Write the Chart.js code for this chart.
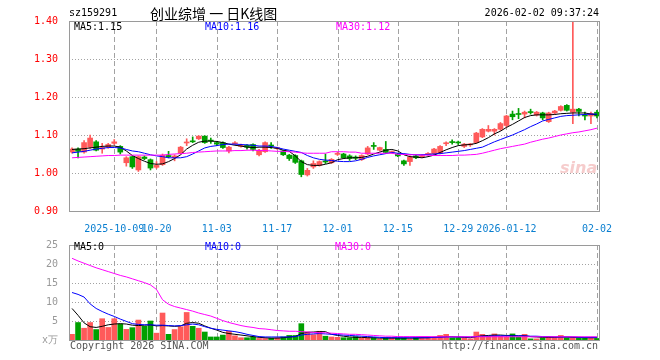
<!DOCTYPE html>
<html><head><meta charset="utf-8">
<script src="https://cdn.jsdelivr.net/npm/chart.js@4.4.1/dist/chart.umd.min.js"></script>
<style>
html,body{margin:0;padding:0;background:#fff;}
body{width:660px;height:360px;position:relative;overflow:hidden;font-family:'DejaVu Sans Mono',monospace;font-size:10px;}
.t{position:absolute;white-space:pre;line-height:12px;}
canvas{position:absolute;left:0;}
</style></head>
<body>
<canvas id="pc" width="660" height="236" style="top:0"></canvas>
<canvas id="vc" width="660" height="124" style="top:236px"></canvas>
<div class="t" style="left:69px;top:7px;color:#000">sz159291</div>
<div class="t" style="left:150px;top:4px;line-height:18px;font-size:14px;font-family:'Noto Sans CJK SC',sans-serif;color:#000">创业综增 一 日K线图</div>
<div class="t" style="right:61px;top:7px;color:#000">2026-02-02 09:37:24</div>
<div class="t" style="left:74px;top:21px;color:#000">MA5:1.15</div>
<div class="t" style="left:205px;top:21px;color:#0000ff">MA10:1.16</div>
<div class="t" style="left:336px;top:21px;color:#ff00ff">MA30:1.12</div>
<div class="t" style="left:74px;top:241px;color:#000">MA5:0</div>
<div class="t" style="left:205px;top:241px;color:#0000ff">MA10:0</div>
<div class="t" style="left:335px;top:241px;color:#ff00ff">MA30:0</div>
<div class="t" style="left:560px;top:158px;font:italic bold 16px 'DejaVu Sans',sans-serif;color:#f6cccc">sina</div>
<div class="t" style="left:70px;top:340px;color:#555">Copyright 2026 SINA.COM</div>
<div class="t" style="right:62px;top:340px;color:#555">http://finance.sina.com.cn</div>
<script>
const dates = [
'2025-09-22','2025-09-23','2025-09-24','2025-09-25','2025-09-26','2025-09-29','2025-09-30','2025-10-09','2025-10-10','2025-10-13',
'2025-10-14','2025-10-15','2025-10-16','2025-10-17','2025-10-20','2025-10-21','2025-10-22','2025-10-23','2025-10-24','2025-10-27',
'2025-10-28','2025-10-29','2025-10-30','2025-10-31','2025-11-03','2025-11-04','2025-11-05','2025-11-06','2025-11-07','2025-11-10',
'2025-11-11','2025-11-12','2025-11-13','2025-11-14','2025-11-17','2025-11-18','2025-11-19','2025-11-20','2025-11-21','2025-11-24',
'2025-11-25','2025-11-26','2025-11-27','2025-11-28','2025-12-01','2025-12-02','2025-12-03','2025-12-04','2025-12-05','2025-12-08',
'2025-12-09','2025-12-10','2025-12-11','2025-12-12','2025-12-15','2025-12-16','2025-12-17','2025-12-18','2025-12-19','2025-12-22',
'2025-12-23','2025-12-24','2025-12-25','2025-12-26','2025-12-29','2025-12-30','2025-12-31','2026-01-05','2026-01-06','2026-01-07',
'2026-01-08','2026-01-09','2026-01-12','2026-01-13','2026-01-14','2026-01-15','2026-01-16','2026-01-19','2026-01-20','2026-01-21',
'2026-01-22','2026-01-23','2026-01-26','2026-01-27','2026-01-28','2026-01-29','2026-01-30','2026-02-02'];

const tickDates  = ['2025-10-09','2025-10-20','2025-11-03','2025-11-17','2025-12-01','2025-12-15','2025-12-29','2026-01-12','2026-02-02'];
const tickLabels = ['2025-10-09','10-20','11-03','11-17','12-01','12-15','12-29','2026-01-12','02-02'];
const priceTicks = [0.90,1.00,1.10,1.20,1.30,1.40];
const volTicks = [0,5,10,15,20,25];

const opens = [
1.055,1.063,1.055,1.068,1.082,1.063,1.068,1.078,1.070,1.027,
1.043,1.008,1.042,1.035,1.015,1.022,1.046,1.040,1.052,1.079,
1.084,1.090,1.097,1.086,1.080,1.080,1.058,1.077,1.070,1.073,
1.075,1.048,1.056,1.073,1.064,1.058,1.047,1.046,1.032,0.995,
1.016,1.020,1.031,1.027,1.049,1.050,1.045,1.042,1.035,1.050,
1.072,1.060,1.062,1.054,1.050,1.032,1.030,1.045,1.043,1.049,
1.050,1.052,1.077,1.082,1.081,1.070,1.074,1.080,1.095,1.110,
1.110,1.115,1.125,1.155,1.156,1.155,1.161,1.153,1.158,1.135,
1.158,1.165,1.178,1.160,1.168,1.152,1.150,1.160];
const closes = [
1.063,1.057,1.080,1.092,1.060,1.067,1.075,1.082,1.055,1.040,
1.016,1.043,1.038,1.013,1.020,1.047,1.043,1.045,1.068,1.081,
1.082,1.097,1.080,1.084,1.076,1.067,1.068,1.079,1.073,1.068,
1.062,1.060,1.080,1.071,1.066,1.048,1.038,1.028,0.996,1.007,
1.025,1.030,1.029,1.036,1.051,1.040,1.038,1.039,1.046,1.066,
1.070,1.067,1.054,1.056,1.045,1.024,1.042,1.040,1.046,1.051,
1.063,1.070,1.079,1.080,1.079,1.076,1.076,1.105,1.115,1.115,
1.115,1.130,1.150,1.148,1.154,1.160,1.159,1.160,1.145,1.158,
1.163,1.175,1.165,1.168,1.162,1.150,1.157,1.150];
const highs = [
1.066,1.066,1.085,1.100,1.085,1.078,1.078,1.088,1.072,1.043,
1.045,1.045,1.045,1.037,1.030,1.050,1.057,1.048,1.070,1.090,
1.095,1.098,1.098,1.092,1.083,1.082,1.070,1.083,1.076,1.075,
1.077,1.062,1.082,1.080,1.068,1.060,1.049,1.048,1.034,1.012,
1.032,1.032,1.050,1.038,1.055,1.052,1.048,1.045,1.048,1.070,
1.080,1.068,1.083,1.058,1.052,1.034,1.045,1.047,1.048,1.054,
1.065,1.072,1.082,1.087,1.084,1.078,1.078,1.107,1.117,1.125,
1.117,1.133,1.152,1.163,1.170,1.163,1.168,1.162,1.160,1.160,
1.165,1.177,1.180,1.400,1.170,1.160,1.160,1.165];
const lows = [
1.052,1.040,1.052,1.065,1.058,1.052,1.065,1.075,1.050,1.018,
1.012,1.004,1.035,1.008,1.012,1.020,1.040,1.032,1.050,1.072,
1.080,1.088,1.078,1.078,1.072,1.065,1.053,1.075,1.068,1.063,
1.058,1.045,1.054,1.065,1.062,1.046,1.033,1.025,0.990,0.992,
1.012,1.018,1.025,1.025,1.046,1.038,1.033,1.035,1.033,1.048,
1.062,1.058,1.052,1.052,1.043,1.020,1.020,1.038,1.041,1.047,
1.048,1.050,1.072,1.076,1.075,1.067,1.070,1.078,1.093,1.108,
1.100,1.112,1.120,1.140,1.143,1.145,1.155,1.150,1.140,1.133,
1.155,1.163,1.163,1.130,1.150,1.140,1.130,1.145];

const ma5 = [
1.062,1.063,1.064,1.066,1.068,1.070,1.071,1.071,1.068,1.058,
1.046,1.038,1.031,1.025,1.023,1.024,1.030,1.038,1.048,1.063,
1.073,1.081,1.084,1.084,1.083,1.080,1.076,1.073,1.071,1.068,
1.067,1.068,1.068,1.067,1.065,1.060,1.057,1.045,1.030,1.022,
1.020,1.020,1.023,1.027,1.035,1.038,1.040,1.040,1.041,1.044,
1.050,1.055,1.060,1.062,1.058,1.048,1.043,1.042,1.040,1.043,
1.047,1.054,1.061,1.067,1.072,1.074,1.075,1.078,1.085,1.093,
1.103,1.110,1.120,1.128,1.137,1.146,1.151,1.153,1.153,1.153,
1.154,1.156,1.157,1.158,1.158,1.158,1.155,1.153];
const ma10 = [
1.053,1.055,1.057,1.060,1.063,1.065,1.067,1.067,1.066,1.062,
1.058,1.056,1.052,1.048,1.045,1.043,1.040,1.040,1.040,1.043,
1.050,1.058,1.066,1.070,1.072,1.075,1.076,1.076,1.075,1.074,
1.073,1.071,1.071,1.070,1.067,1.063,1.060,1.057,1.054,1.046,
1.040,1.036,1.034,1.033,1.031,1.030,1.030,1.032,1.036,1.041,
1.045,1.048,1.051,1.054,1.052,1.051,1.049,1.048,1.048,1.049,
1.050,1.051,1.053,1.055,1.057,1.059,1.062,1.065,1.068,1.075,
1.082,1.088,1.094,1.100,1.107,1.114,1.122,1.129,1.137,1.141,
1.145,1.149,1.151,1.152,1.153,1.154,1.155,1.155];
const ma30 = [
1.040,1.041,1.042,1.043,1.044,1.045,1.046,1.046,1.047,1.047,
1.047,1.047,1.047,1.047,1.047,1.047,1.049,1.050,1.051,1.052,
1.054,1.055,1.056,1.057,1.058,1.058,1.058,1.059,1.059,1.060,
1.060,1.059,1.059,1.058,1.057,1.057,1.056,1.055,1.053,1.052,
1.052,1.052,1.052,1.056,1.056,1.056,1.055,1.055,1.052,1.052,
1.052,1.052,1.052,1.052,1.049,1.049,1.048,1.048,1.047,1.047,
1.046,1.046,1.046,1.046,1.047,1.047,1.048,1.049,1.052,1.056,
1.060,1.064,1.067,1.070,1.073,1.076,1.081,1.085,1.089,1.092,
1.096,1.100,1.103,1.106,1.108,1.111,1.114,1.118];

const volume = [
1.5,4.6,3.1,4.6,2.75,5.6,3.3,5.6,4.2,2.8,
3.25,5.25,3.6,5.0,1.8,7.1,1.5,2.75,3.5,7.25,
3.6,3.1,2.1,0.8,0.8,1.3,2.3,1.1,0.6,0.6,
0.8,0.4,0.4,0.5,0.6,0.8,1.2,1.2,4.3,2.1,
1.4,2.3,1.0,0.8,0.7,0.6,0.6,0.9,0.6,0.6,
0.6,0.3,0.6,0.6,0.5,0.5,0.3,0.6,0.8,0.8,
0.8,1.2,1.5,0.6,0.6,0.6,0.3,2.1,1.5,1.0,
1.6,1.0,0.8,1.6,0.8,1.5,0.3,0.3,0.6,0.8,
0.8,1.2,0.6,0.6,0.6,0.6,0.6,0.4];
const volMa5 = [
8.3,6.5,4.5,3.5,3.3,3.6,4.0,4.2,4.3,4.2,
3.9,3.8,3.9,4.0,3.7,3.8,3.7,3.6,3.7,4.4,
4.6,4.4,3.7,3.1,2.6,2.0,1.7,1.5,1.3,1.1,
0.9,0.7,0.6,0.5,0.5,0.6,0.8,0.9,1.7,2.0,
2.1,2.2,2.2,1.5,1.2,1.0,0.8,0.7,0.7,0.6,
0.6,0.5,0.5,0.5,0.5,0.5,0.5,0.5,0.6,0.6,
0.7,0.8,0.9,0.9,0.8,0.7,0.6,0.9,1.1,1.2,
1.3,1.3,1.2,1.2,1.1,1.1,0.9,0.8,0.7,0.7,
0.7,0.8,0.8,0.7,0.7,0.6,0.6,0.6];
const volMa10 = [
12.5,12.0,11.3,9.5,8.3,7.5,6.8,6.2,5.5,4.9,
4.3,4.1,4.0,4.0,3.9,3.9,3.8,3.7,3.8,4.0,
4.2,4.0,3.5,3.1,2.8,2.6,2.4,2.2,1.9,1.5,
1.2,0.9,0.8,0.8,0.8,0.8,0.8,0.9,1.3,1.5,
1.6,1.7,1.6,1.5,1.4,1.3,1.2,1.1,1.0,0.9,
0.8,0.7,0.6,0.6,0.6,0.6,0.6,0.6,0.6,0.6,
0.7,0.7,0.8,0.8,0.8,0.8,0.8,0.9,1.0,1.0,
1.1,1.1,1.1,1.1,1.1,1.1,1.0,1.0,0.9,0.9,
0.8,0.8,0.8,0.8,0.7,0.7,0.7,0.7];
const volMa30 = [
21.5,20.8,20.2,19.6,19.0,18.5,18.0,17.5,17.0,16.6,
16.1,15.6,15.1,14.5,13.3,10.6,9.4,8.8,8.4,8.0,
7.6,7.1,6.7,6.3,5.7,5.1,4.6,4.2,3.8,3.5,
3.3,3.0,2.9,2.7,2.5,2.4,2.3,2.3,2.2,2.1,
2.0,1.9,1.9,1.8,1.7,1.6,1.5,1.5,1.4,1.3,
1.2,1.1,1.0,1.0,0.9,0.9,0.9,0.9,0.9,0.9,
0.85,0.85,0.85,0.85,0.85,0.85,0.85,0.85,0.85,0.85,
0.85,0.85,0.85,0.85,0.85,0.85,0.85,0.85,0.85,0.85,
0.85,0.85,0.85,0.85,0.85,0.85,0.85,0.85];

const RED = '#ff5a5a', GREEN = '#00a000', GRID = '#a2a2a2', FRAME = '#9a9a9a';
const isUp = i => closes[i] >= opens[i];
const candleColor = c => isUp(c.dataIndex) ? RED : GREEN;
const tickIndex = new Map(tickDates.map((d, k) => [dates.indexOf(d), tickLabels[k]]));

Chart.defaults.font.family = "'DejaVu Sans Mono', monospace";
Chart.defaults.font.size = 10;
Chart.defaults.animation = false;

function makeDecor(values) {
  return {
    id: 'panelDecor',
    beforeDatasetsDraw(chart) {
      const ctx = chart.ctx, a = chart.chartArea, sx = chart.scales.x, sy = chart.scales.y;
      ctx.save();
      ctx.strokeStyle = GRID;
      ctx.lineWidth = 1;
      ctx.setLineDash([5, 3]);
      for (const d of tickDates) {
        const x = Math.round(sx.getPixelForValue(dates.indexOf(d))) + 0.5;
        ctx.beginPath(); ctx.moveTo(x, a.top); ctx.lineTo(x, a.bottom); ctx.stroke();
      }
      ctx.setLineDash([1, 2]);
      for (const v of values.slice(1, -1)) {
        const y = Math.round(sy.getPixelForValue(v)) + 0.5;
        ctx.beginPath(); ctx.moveTo(a.left, y); ctx.lineTo(a.right, y); ctx.stroke();
      }
      ctx.restore();
    },
    afterDatasetsDraw(chart) {
      const ctx = chart.ctx, a = chart.chartArea;
      ctx.save();
      ctx.strokeStyle = FRAME;
      ctx.lineWidth = 1;
      ctx.setLineDash([]);
      ctx.strokeRect(a.left + 0.5, a.top + 0.5, a.right - a.left - 1, a.bottom - a.top);
      ctx.restore();
    }
  };
}

function xScale(showLabels) {
  return {
    offset: true,
    grid: { display: false },
    border: { display: false },
    ticks: { display: showLabels, autoSkip: false, maxRotation: 0, minRotation: 0, padding: 4,
             color: '#0a7fd0', callback: (v, i) => tickIndex.has(i) ? tickIndex.get(i) : null },
    afterFit: s => { s.height = showLabels ? 25 : 0; }
  };
}
const lineDs = (data, color) => ({ type: 'line', data, borderColor: color, borderWidth: 1,
  pointRadius: 0, tension: 0, order: 0, fill: false });

new Chart(document.getElementById('pc'), {
  type: 'bar',
  data: {
    labels: dates,
    datasets: [
      lineDs(ma30, '#ff00ff'),
      lineDs(ma10, '#0000ff'),
      lineDs(ma5, '#000000'),
      { data: dates.map((d, i) => [opens[i], closes[i]]), backgroundColor: candleColor,
        barThickness: 5, grouped: false, order: 1, minBarLength: 1 },
      { data: dates.map((d, i) => [lows[i], highs[i]]), backgroundColor: candleColor,
        barThickness: 1, grouped: false, order: 2 }
    ]
  },
  options: {
    responsive: false, devicePixelRatio: 1,
    layout: { padding: { left: 0, right: 60, top: 21, bottom: 0 } },
    plugins: { legend: { display: false }, tooltip: { enabled: false } },
    scales: {
      x: xScale(true),
      y: {
        min: priceTicks[0], max: priceTicks[priceTicks.length - 1],
        afterBuildTicks: s => { s.ticks = priceTicks.map(v => ({ value: v })); },
        ticks: { color: '#ff0000', padding: 3, callback: v => Number(v).toFixed(2) },
        grid: { display: false },
        border: { display: false },
        afterFit: s => { s.width = 69; }
      }
    }
  },
  plugins: [makeDecor(priceTicks)]
});

new Chart(document.getElementById('vc'), {
  type: 'bar',
  data: {
    labels: dates,
    datasets: [
      lineDs(volMa30, '#ff00ff'),
      lineDs(volMa10, '#0000ff'),
      lineDs(volMa5, '#000000'),
      { data: volume, backgroundColor: candleColor, barThickness: 5, grouped: false, order: 1 }
    ]
  },
  options: {
    responsive: false, devicePixelRatio: 1,
    layout: { padding: { left: 0, right: 60, top: 5, bottom: 20 } },
    plugins: { legend: { display: false }, tooltip: { enabled: false } },
    scales: {
      x: xScale(false),
      y: {
        min: volTicks[0], max: volTicks[volTicks.length - 1],
        afterBuildTicks: s => { s.ticks = volTicks.map(v => ({ value: v })); },
        ticks: { color: '#999999', padding: 3, callback: v => v === 0 ? 'x万' : String(v) },
        grid: { display: false },
        border: { display: false },
        afterFit: s => { s.width = 69; }
      }
    }
  },
  plugins: [makeDecor(volTicks)]
});
</script>
</body></html>
